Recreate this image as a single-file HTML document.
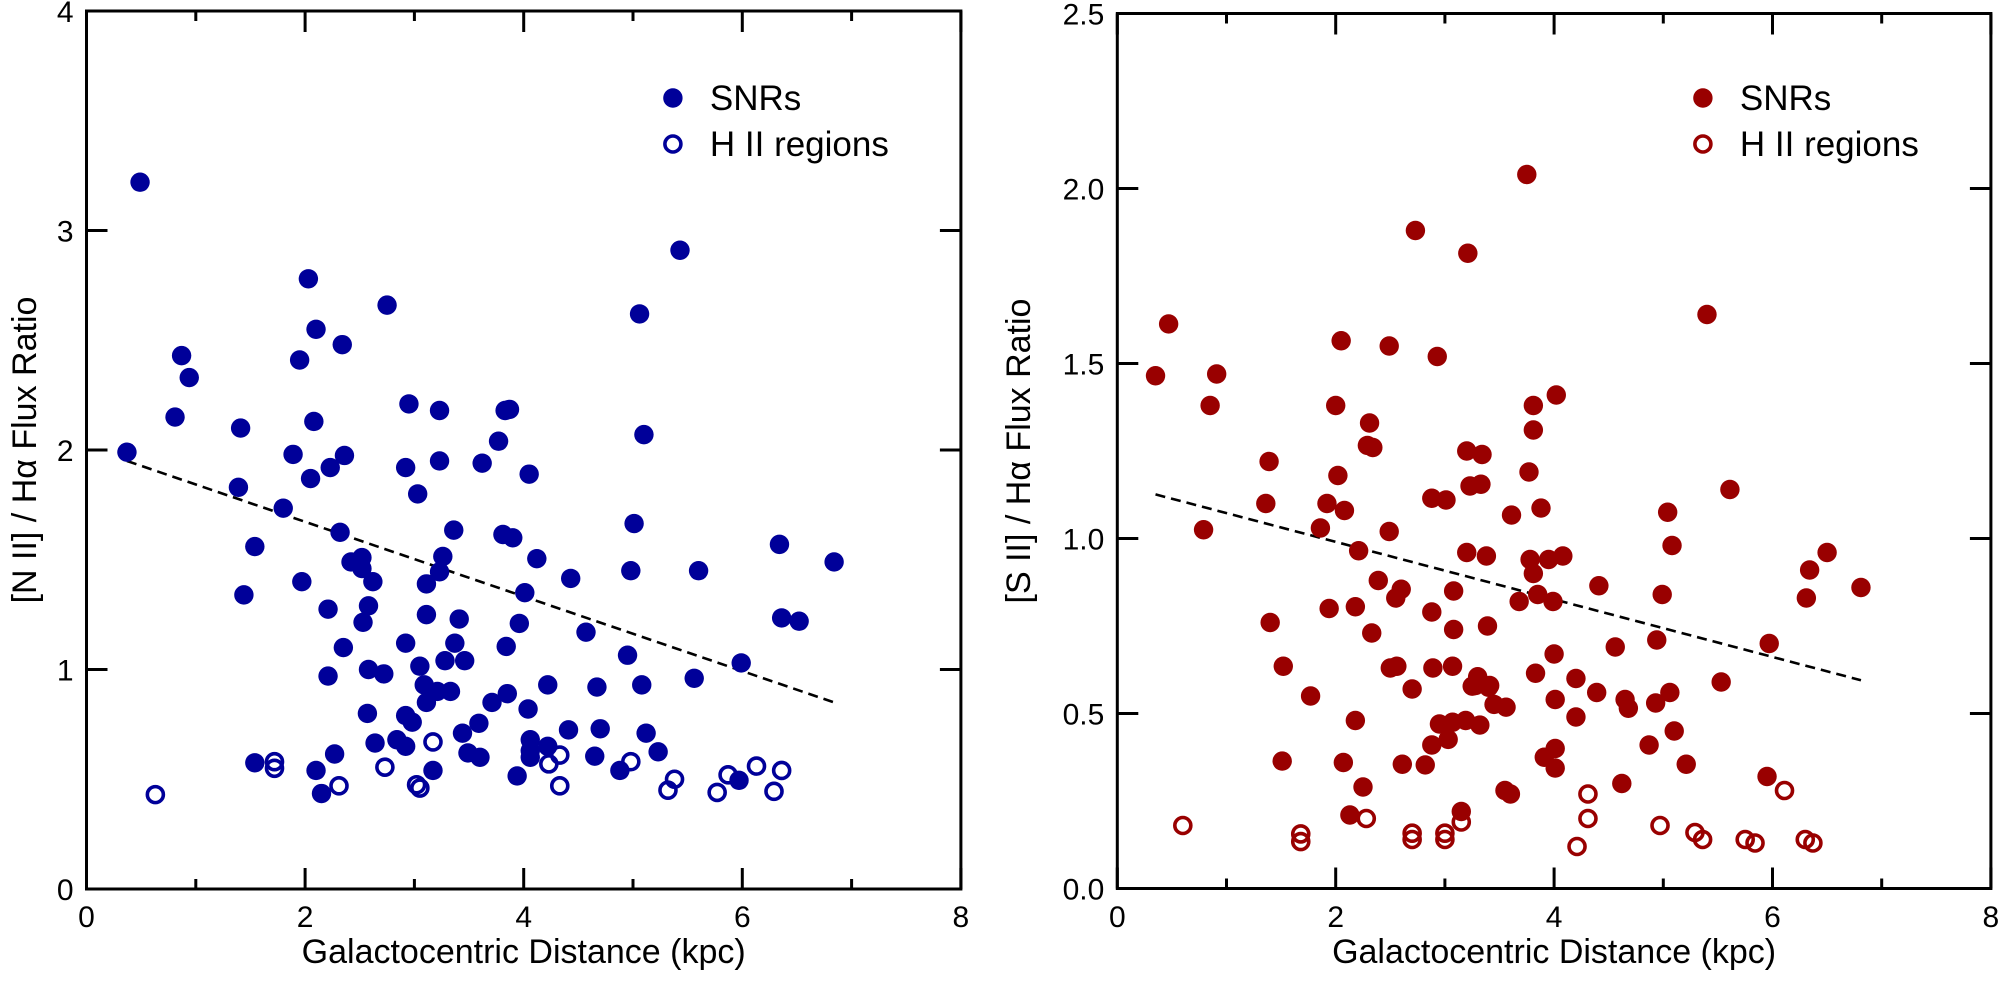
<!DOCTYPE html>
<html><head><meta charset="utf-8">
<style>
html,body{margin:0;padding:0;background:#fff;}
svg{display:block;font-family:"Liberation Sans",Arial,sans-serif;}
</style></head>
<body>
<svg id="fig" width="2000" height="986" viewBox="0 0 2000 986" xmlns="http://www.w3.org/2000/svg"></svg>
<script>
// ---- Left panel data: [N II]/Halpha ----
const nSnrX = [0.37,0.49,0.81,0.87,0.94,1.39,1.41,1.44,1.54,1.54,1.8,1.89,1.95,1.97,2.03,2.05,2.08,2.1,2.1,2.15,2.21,2.21,2.23,2.27,2.32,2.34,2.35,2.36,2.42,2.52,2.52,2.53,2.57,2.58,2.58,2.62,2.64,2.72,2.75,2.84,2.92,2.92,2.92,2.92,2.95,2.98,3.03,3.05,3.09,3.11,3.11,3.11,3.17,3.21,3.23,3.23,3.23,3.26,3.28,3.33,3.36,3.37,3.41,3.44,3.46,3.49,3.59,3.6,3.62,3.71,3.77,3.81,3.83,3.84,3.85,3.87,3.9,3.94,3.96,4.01,4.04,4.05,4.06,4.06,4.06,4.12,4.22,4.22,4.41,4.43,4.57,4.65,4.67,4.7,4.88,4.95,4.98,5.01,5.06,5.08,5.1,5.12,5.23,5.43,5.56,5.6,5.97,5.99,6.34,6.36,6.52,6.84];
const nSnrY = [1.99,3.22,2.15,2.43,2.33,1.83,2.10,1.34,1.56,0.575,1.735,1.98,2.41,1.40,2.78,1.87,2.13,2.55,0.54,0.435,1.275,0.97,1.92,0.615,1.625,2.48,1.1,1.975,1.49,1.51,1.46,1.215,0.80,1.29,1.0,1.40,0.665,0.98,2.66,0.68,1.92,1.12,0.79,0.65,2.21,0.76,1.80,1.015,0.93,1.39,1.25,0.85,0.54,0.90,2.18,1.95,1.445,1.515,1.04,0.90,1.635,1.12,1.23,0.71,1.04,0.62,0.755,0.60,1.94,0.85,2.04,1.615,2.18,1.105,0.89,2.185,1.60,0.515,1.21,1.35,0.82,1.89,0.68,0.63,0.60,1.505,0.93,0.65,0.725,1.415,1.17,0.605,0.92,0.73,0.54,1.065,1.45,1.665,2.62,0.93,2.07,0.71,0.625,2.91,0.96,1.45,0.495,1.03,1.57,1.235,1.22,1.49];
const nHiiX = [0.63,1.72,1.72,2.31,2.73,3.05,3.02,3.17,4.23,4.33,4.33,4.98,5.38,5.32,5.77,5.87,6.13,6.36,6.29];
const nHiiY = [0.43,0.58,0.55,0.47,0.555,0.46,0.475,0.67,0.57,0.61,0.47,0.58,0.50,0.45,0.44,0.52,0.56,0.54,0.445];
const nFitX = [0.37,6.84];
const nFitY = [1.95,0.85];
// ---- Right panel data: [S II]/Halpha ----
const sSnrX = [0.35,0.47,0.85,0.91,0.79,1.36,1.39,1.4,1.52,1.51,1.77,1.86,1.92,1.94,2.0,2.02,2.05,2.07,2.08,2.13,2.18,2.18,2.21,2.25,2.29,2.31,2.33,2.34,2.39,2.49,2.49,2.5,2.55,2.56,2.6,2.61,2.7,2.73,2.82,2.88,2.88,2.88,2.89,2.93,2.95,3.01,3.03,3.07,3.07,3.08,3.08,3.15,3.19,3.2,3.2,3.21,3.23,3.25,3.28,3.3,3.32,3.33,3.34,3.38,3.39,3.4,3.41,3.45,3.55,3.6,3.56,3.61,3.68,3.75,3.77,3.78,3.81,3.81,3.81,3.83,3.85,3.88,3.91,3.95,3.99,4.0,4.01,4.01,4.01,4.02,4.08,4.2,4.2,4.39,4.41,4.56,4.62,4.65,4.68,4.87,4.93,4.94,4.99,5.04,5.06,5.08,5.1,5.21,5.40,5.53,5.61,5.95,5.97,6.31,6.34,6.5,6.81];
const sSnrY = [1.465,1.613,1.38,1.47,1.025,1.10,1.22,0.76,0.635,0.364,0.55,1.03,1.10,0.80,1.38,1.18,1.565,0.36,1.08,0.21,0.48,0.805,0.965,0.29,1.266,1.33,0.73,1.26,0.88,1.55,1.02,0.63,0.83,0.635,0.855,0.355,0.57,1.88,0.353,1.115,0.79,0.41,0.63,1.52,0.47,1.11,0.426,0.475,0.635,0.85,0.74,0.22,0.48,1.25,0.96,1.815,1.15,0.578,0.58,0.605,0.467,1.155,1.24,0.95,0.75,0.575,0.58,0.526,0.28,0.27,0.518,1.067,0.82,2.04,1.19,0.94,1.38,1.31,0.9,0.615,0.84,1.087,0.375,0.94,0.82,0.67,0.54,0.40,0.344,1.41,0.95,0.6,0.49,0.56,0.865,0.69,0.30,0.54,0.515,0.41,0.53,0.71,0.84,1.075,0.56,0.98,0.45,0.355,1.64,0.59,1.14,0.32,0.70,0.83,0.91,0.96,0.86];
const sHiiX = [0.6,1.68,1.68,2.28,2.7,2.7,3.0,3.0,3.15,4.31,4.31,4.21,4.97,5.29,5.36,5.75,5.84,6.11,6.3,6.37];
const sHiiY = [0.18,0.156,0.134,0.2,0.158,0.14,0.158,0.14,0.19,0.27,0.2,0.12,0.18,0.16,0.14,0.14,0.13,0.28,0.14,0.13];
const sFitX = [0.35,6.81];
const sFitY = [1.126,0.595];
// ---- axis ticks ----
const xTickLabels = ["0","2","4","6","8"];
const nYTickLabels = ["0","1","2","3","4"];
const sYTickLabels = ["0.0","0.5","1.0","1.5","2.0","2.5"];

const NS = "http://www.w3.org/2000/svg";
const svg = document.getElementById('fig');
function mk(tag, attrs, parent){
  const e = document.createElementNS(NS, tag);
  for (const k in attrs) e.setAttribute(k, attrs[k]);
  (parent||svg).appendChild(e);
  return e;
}

function panel(cfg){
  const g = mk('g', {});
  
  
  const X = v => cfg.x0 + v*cfg.sx;
  const Y = v => cfg.y0 - v*cfg.sy;
  const left = X(0), right = X(8), bottom = Y(0), top = Y(cfg.ymax);
  const frame = mk('rect', {x:left, y:top, width:right-left, height:bottom-top, fill:'none', stroke:'#000', 'stroke-width':3}, g);
  
  
  for (let k=0;k<=8;k++){
    const len = (k%2===0)?21:10;
    mk('line',{x1:X(k),x2:X(k),y1:bottom,y2:bottom-len,stroke:'#000','stroke-width':3},g);
    mk('line',{x1:X(k),x2:X(k),y1:top,y2:top+len,stroke:'#000','stroke-width':3},g);
  }
  xTickLabels.forEach((t,i)=>{
    const tx = mk('text',{x:X(i*2),y:927,'font-size':30,'text-anchor':'middle',fill:'#000'},g);
    tx.textContent = t;
    
    
  });
  cfg.yLabels.forEach((t,i)=>{
    const v = i*cfg.ystep;
    mk('line',{x1:left,x2:left+21,y1:Y(v),y2:Y(v),stroke:'#000','stroke-width':3},g);
    mk('line',{x1:right,x2:right-21,y1:Y(v),y2:Y(v),stroke:'#000','stroke-width':3},g);
    const tx = mk('text',{x:left-13,y:Y(v)+11,'font-size':30,'text-anchor':'end',fill:'#000'},g);
    tx.textContent = t;
    
    
  });
  const xt = mk('text',{x:(left+right)/2,y:963,'font-size':34,'text-anchor':'middle',fill:'#000'},g);
  xt.textContent = 'Galactocentric Distance (kpc)';
  
  
  const yt = mk('text',{x:0,y:0,'font-size':34,'text-anchor':'middle',fill:'#000',transform:`translate(${cfg.ytx},${(top+bottom)/2}) rotate(-90)`},g);
  yt.textContent = cfg.ytitle;
  
  
  const fit = mk('line',{x1:X(cfg.fitX[0]),y1:Y(cfg.fitY[0]),x2:X(cfg.fitX[1]),y2:Y(cfg.fitY[1]),stroke:'#000','stroke-width':2.6,'stroke-dasharray':'10 6'},g);
  
  
  cfg.hx.forEach((xv,i)=>{
    const c = mk('circle',{cx:X(xv),cy:Y(cfg.hy[i]),r:8,fill:'none',stroke:cfg.color,'stroke-width':3.6},g);
    
    
  });
  cfg.sx_.forEach((xv,i)=>{
    const c = mk('circle',{cx:X(xv),cy:Y(cfg.sy_[i]),r:9.7,fill:cfg.color},g);
    
    
  });
  const lg = mk('g',{},g);
  
  
  const lx = right - 288;
  const m1 = mk('circle',{cx:lx,cy:98,r:9.7,fill:cfg.color},lg);
  
  
  const t1 = mk('text',{x:lx+37,y:110,'font-size':35,fill:'#000'},lg);
  t1.textContent = 'SNRs';
  
  
  const m2 = mk('circle',{cx:lx,cy:144,r:8,fill:'none',stroke:cfg.color,'stroke-width':3.6},lg);
  
  
  const t2 = mk('text',{x:lx+37,y:156,'font-size':35,fill:'#000'},lg);
  t2.textContent = 'H II regions';
  
  
}

panel({name:'nii-panel', x0:86.5, sx:109.3, y0:889, sy:219.5, ymax:4, ystep:1, yLabels:nYTickLabels,
  ytitle:'[N II] / H\u03B1 Flux Ratio', ytx:36, color:'#000099',
  sx_:nSnrX, sy_:nSnrY, hx:nHiiX, hy:nHiiY, fitX:nFitX, fitY:nFitY});
panel({name:'sii-panel', x0:1117.3, sx:109.2, y0:888.5, sy:350, ymax:2.5, ystep:0.5, yLabels:sYTickLabels,
  ytitle:'[S II] / H\u03B1 Flux Ratio', ytx:1030, color:'#990000',
  sx_:sSnrX, sy_:sSnrY, hx:sHiiX, hy:sHiiY, fitX:sFitX, fitY:sFitY});
</script>
</body></html>
